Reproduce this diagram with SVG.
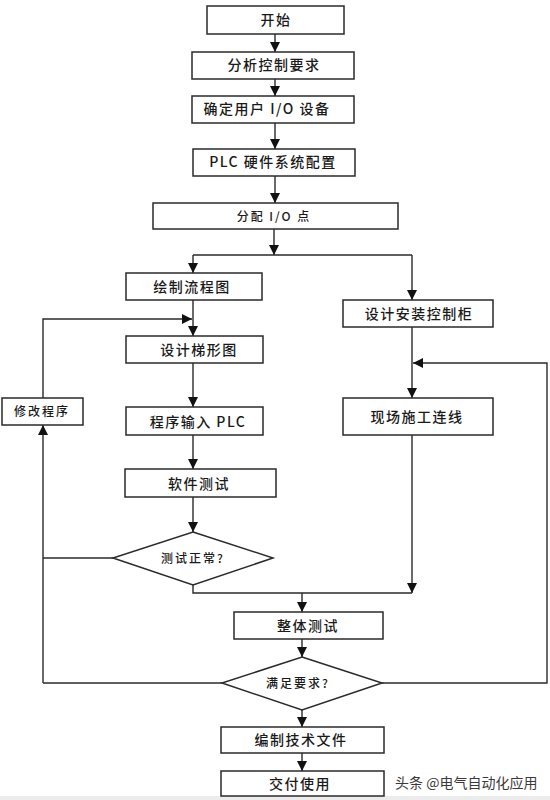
<svg xmlns="http://www.w3.org/2000/svg" width="550" height="800" viewBox="0 0 550 800">
<style>
.box{fill:#fff;stroke:#2a2a2a;stroke-width:1.5}
.t{font-family:"Noto Sans CJK SC","Liberation Sans",sans-serif;font-size:14px;fill:#1a1a1a;text-anchor:middle;letter-spacing:1.5px;font-weight:500}
.s{font-size:12px;letter-spacing:2px}
.c{fill:none;stroke:#2a2a2a;stroke-width:1.4}
.wm{font-family:"Noto Sans CJK SC","Liberation Sans",sans-serif;font-size:14px;fill:#3a3a3a}
</style>
<defs>
<marker id="ah" viewBox="0 0 10 10" refX="10" refY="5" markerWidth="10" markerHeight="10" markerUnits="userSpaceOnUse" orient="auto">
<path d="M0,0 L10,5 L0,10 z" fill="#111"/>
</marker>
</defs>
<rect width="550" height="800" fill="#fff"/>
<rect y="796" width="550" height="4" fill="#ececec"/>
<g id="connectors">
<path class="c" d="M275,34 V52" marker-end="url(#ah)"/>
<path class="c" d="M275,79 V96" marker-end="url(#ah)"/>
<path class="c" d="M275,123 V149" marker-end="url(#ah)"/>
<path class="c" d="M275,176 V203" marker-end="url(#ah)"/>
<path class="c" d="M274,229 V255" marker-end="url(#ah)"/>
<path class="c" d="M193,255 H412"/>
<path class="c" d="M193,255 V273" marker-end="url(#ah)"/>
<path class="c" d="M412,255 V300" marker-end="url(#ah)"/>
<path class="c" d="M193,300 V336" marker-end="url(#ah)"/>
<path class="c" d="M43,398 V319 H192" marker-end="url(#ah)"/>
<path class="c" d="M193,363 V407" marker-end="url(#ah)"/>
<path class="c" d="M193,435 V469" marker-end="url(#ah)"/>
<path class="c" d="M193,497 V532" marker-end="url(#ah)"/>
<path class="c" d="M113,558 H43"/>
<path class="c" d="M43,683 V425" marker-end="url(#ah)"/>
<path class="c" d="M193,585 V593 H412"/>
<path class="c" d="M412,327 V398" marker-end="url(#ah)"/>
<path class="c" d="M412,435 V593" marker-end="url(#ah)"/>
<path class="c" d="M382,683 H547 V363 H413" marker-end="url(#ah)"/>
<path class="c" d="M302,593 V612" marker-end="url(#ah)"/>
<path class="c" d="M302,639 V657" marker-end="url(#ah)"/>
<path class="c" d="M222,683 H43"/>
<path class="c" d="M302,710 V727" marker-end="url(#ah)"/>
<path class="c" d="M302,753 V771" marker-end="url(#ah)"/>
</g>
<g id="start"><rect class="box" x="207" y="6" width="137" height="28"/><text class="t" x="276" y="25">开始</text></g>
<g id="analyze"><rect class="box" x="192" y="52" width="162" height="27"/><text class="t" x="274" y="70">分析控制要求</text></g>
<g id="io-devices"><rect class="box" x="192" y="96" width="162" height="27"/><text class="t" x="267" y="114">确定用户 I/O 设备</text></g>
<g id="plc-config"><rect class="box" x="193" y="149" width="162" height="27"/><text class="t" x="273" y="167">PLC 硬件系统配置</text></g>
<g id="assign-io"><rect class="box" x="153" y="203" width="245" height="26"/><text class="t s" x="274" y="221">分配 I/O 点</text></g>
<g id="flowchart"><rect class="box" x="126" y="273" width="136" height="27"/><text class="t" x="192" y="292">绘制流程图</text></g>
<g id="cabinet"><rect class="box" x="343" y="300" width="150" height="27"/><text class="t" x="419" y="319">设计安装控制柜</text></g>
<g id="ladder"><rect class="box" x="126" y="336" width="137" height="27"/><text class="t" x="199" y="355">设计梯形图</text></g>
<g id="input-plc"><rect class="box" x="126" y="407" width="137" height="28"/><text class="t" x="198" y="427">程序输入 PLC</text></g>
<g id="modify"><rect class="box" x="2" y="398" width="81" height="27"/><text class="t s" x="42" y="416">修改程序</text></g>
<g id="wiring"><rect class="box" x="343" y="398" width="150" height="37"/><text class="t" x="417" y="422">现场施工连线</text></g>
<g id="soft-test"><rect class="box" x="125" y="469" width="151" height="28"/><text class="t" x="199" y="489">软件测试</text></g>
<g id="test-ok"><polygon class="box" points="193,532 273,558 193,585 113,558"/><text class="t s" x="193" y="563">测试正常?</text></g>
<g id="overall-test"><rect class="box" x="234" y="612" width="149" height="27"/><text class="t" x="308" y="631">整体测试</text></g>
<g id="meets"><polygon class="box" points="302,657 382,683 302,710 222,683"/><text class="t s" x="298" y="688">满足要求?</text></g>
<g id="docs"><rect class="box" x="221" y="727" width="163" height="26"/><text class="t" x="301" y="745">编制技术文件</text></g>
<g id="deliver"><rect class="box" x="221" y="771" width="163" height="25"/><text class="t" x="300" y="789">交付使用</text></g>
<text class="wm" x="395" y="788">头条 @电气自动化应用</text>
</svg>
